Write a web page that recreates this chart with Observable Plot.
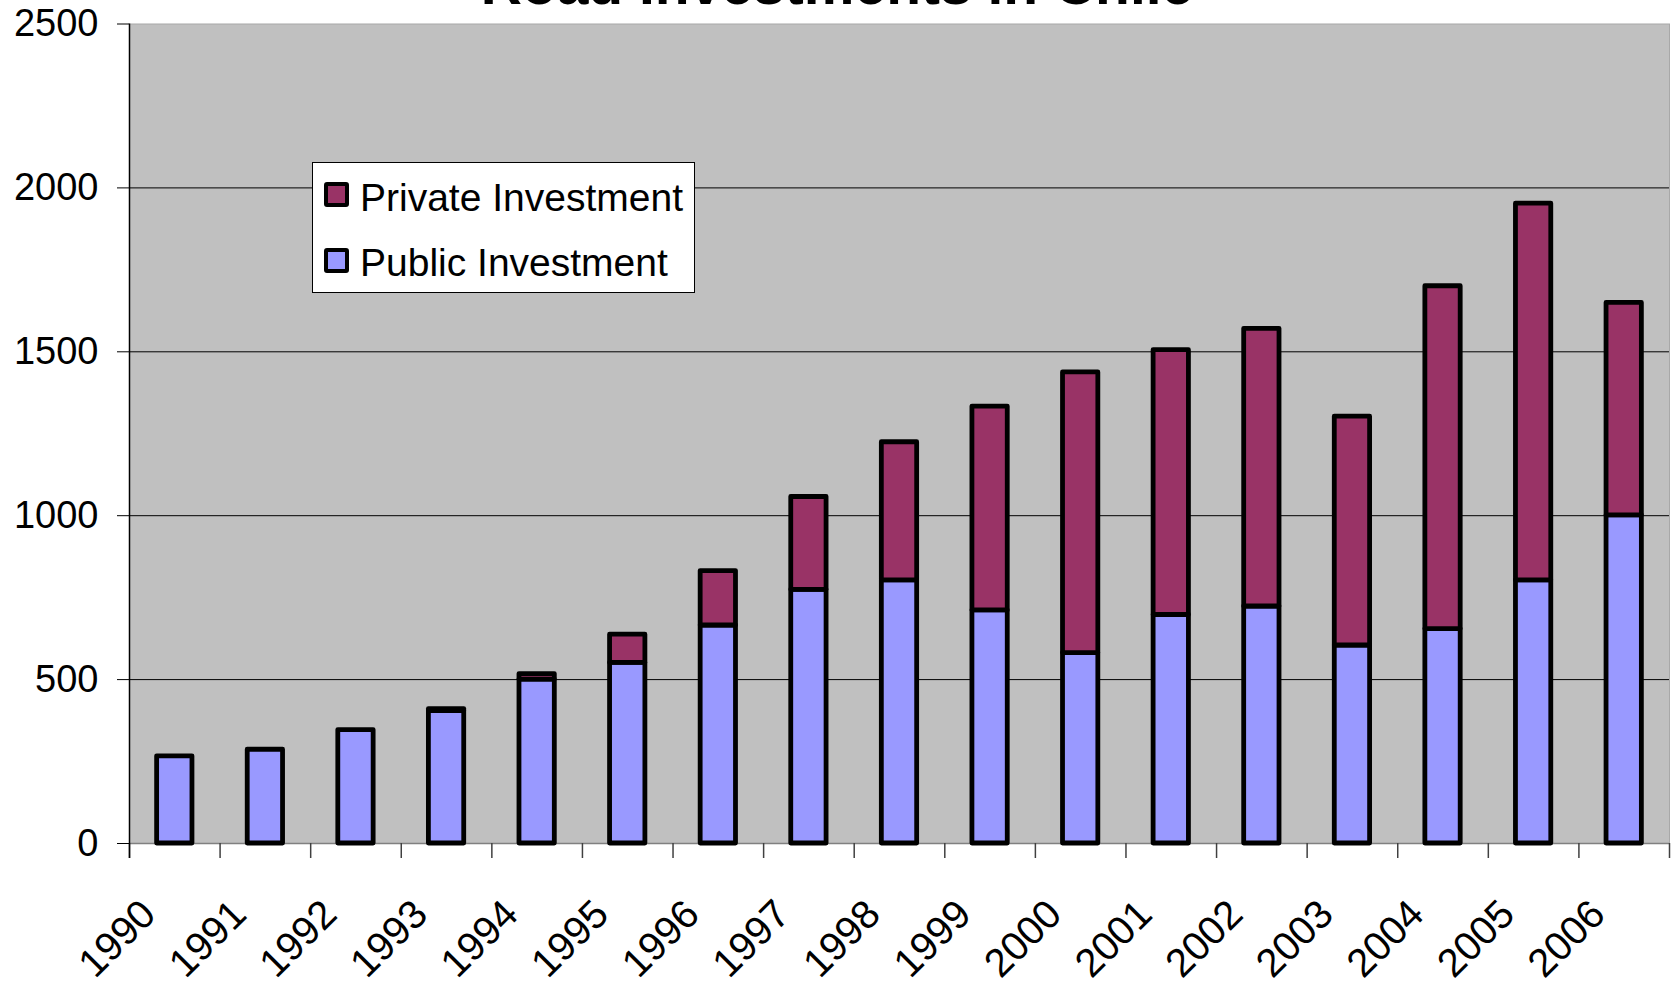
<!DOCTYPE html>
<html><head><meta charset="utf-8">
<script src="https://cdn.jsdelivr.net/npm/d3@7"></script>
<script src="https://cdn.jsdelivr.net/npm/@observablehq/plot@0.6"></script>
<style>
body{margin:0;background:#fff;overflow:hidden;font-family:"Liberation Sans",Arial,sans-serif;}
#wrap{position:relative;width:1674px;height:986px;overflow:hidden;}
#title{position:absolute;left:0;width:1674px;text-align:center;top:-44px;font-size:57px;font-weight:bold;line-height:57px;color:#000;}
#legend{position:absolute;left:312px;top:162px;width:383px;height:131px;box-sizing:border-box;background:#fff;border:1px solid #000;}
.sw{position:absolute;left:11px;width:25px;height:25px;box-sizing:border-box;border:4px solid #000;border-radius:3px;}
.lt{position:absolute;left:47px;font-size:39px;line-height:39px;white-space:nowrap;color:#000;}
</style></head>
<body><div id="wrap"><div id="chart"></div><div id="title"></div><div id="legend"></div></div>
<script>
const years = [1990,1991,1992,1993,1994,1995,1996,1997,1998,1999,2000,2001,2002,2003,2004,2005,2006];
const publicInv  = [266,286,346,404,500,551,665,774,803,711,581,697,723,604,654,803,1001];
const privateInv = [0,0,0,6,17,86,166,283,421,622,856,808,847,698,1046,1149,648];
const yTicks = [0,500,1000,1500,2000,2500];
const seriesNames = ["Public Investment","Private Investment"];
const seriesColors = ["#9999FF","#993366"];
const titleText = "Road Investments in Chile";

const rows = [];
years.forEach((y,i)=>{
  rows.push({year:String(y), series:seriesNames[0], value:publicInv[i]});
  if (privateInv[i] > 0) rows.push({year:String(y), series:seriesNames[1], value:privateInv[i]});
});

const W = 1674, H = 986, mL = 129, mR = 5, mT = 23.5, mB = 143;
const step = (W - mL - mR) / years.length;
const ys = years.map(String);

const chart = Plot.plot({
  width: W, height: H,
  marginLeft: mL, marginRight: mR, marginTop: mT, marginBottom: mB,
  style: {fontFamily: "'Liberation Sans', Arial, sans-serif", fontSize: "38px", color: "#000", background: "#fff"},
  x: {domain: ys, paddingInner: 0.61, paddingOuter: 0.305, round: false, label: null},
  y: {domain: [0,2500], label: null},
  color: {domain: seriesNames, range: seriesColors},
  marks: [
    Plot.frame({fill: "#C0C0C0", stroke: "#a8a8a8"}),
    Plot.ruleY(yTicks.filter(t => t > 0 && t < 2500), {stroke: "#000", strokeWidth: 1}),
    Plot.ruleY([0], {stroke: "#808080", strokeWidth: 1.5}),
    Plot.ruleX(ys, {x: d => d, dx: -step/2, y1: 0, y2: 0, insetBottom: -15, stroke: "#404040", strokeWidth: 1.5}),
    Plot.ruleX([ys[ys.length-1]], {x: d => d, dx: step/2, y1: 0, y2: 0, insetBottom: -15, stroke: "#404040", strokeWidth: 1.5}),
    Plot.ruleX([ys[0]], {x: d => d, dx: -step/2, y1: 2500, y2: 0, insetBottom: -15, stroke: "#000", strokeWidth: 1.5}),
    Plot.barY(rows, Plot.stackY({x: "year", y: "value", fill: "series", order: seriesNames, stroke: "#000", strokeWidth: 4.8, strokeLinejoin: "round"})),
    Plot.axisY({ticks: yTicks, tickSize: 12, tickPadding: 19, tickFormat: d => String(d), fontSize: 38, stroke: "#000", fill: "#000", label: null}),
    Plot.axisX({tickSize: 0, tickRotate: -45, tickPadding: 64, dx: -26, fontSize: 40, fill: "#000", label: null})
  ]
});
document.getElementById("chart").appendChild(chart);
document.getElementById("title").textContent = titleText;

const leg = document.getElementById("legend");
[[seriesNames[1], seriesColors[1]],[seriesNames[0], seriesColors[0]]].forEach(([name,col],i)=>{
  const sw = document.createElement("div"); sw.className = "sw";
  sw.style.top = (19 + i*66) + "px"; sw.style.background = col; leg.appendChild(sw);
  const t = document.createElement("div"); t.className = "lt";
  t.style.top = (15 + i*65) + "px"; t.textContent = name; leg.appendChild(t);
});
</script></body></html>
